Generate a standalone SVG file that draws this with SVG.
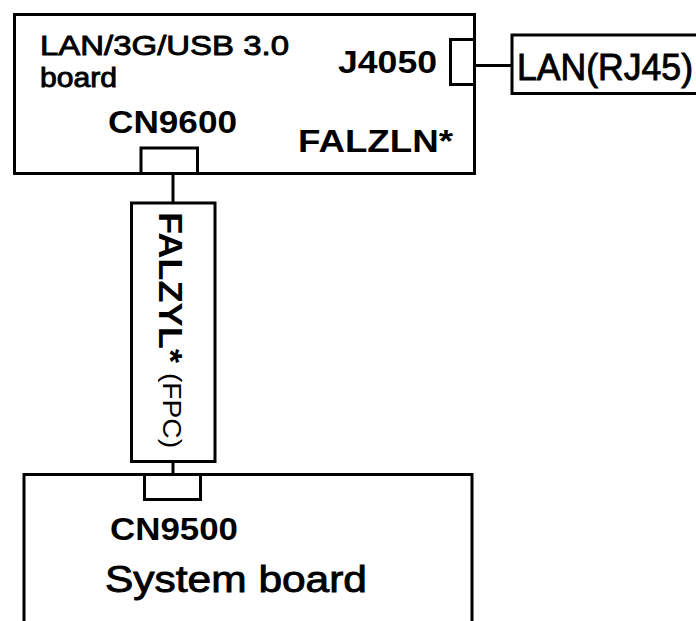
<svg xmlns="http://www.w3.org/2000/svg" width="696" height="621" viewBox="0 0 696 621">
<style>
.box{fill:#fff;stroke:#000;stroke-width:3}
.conn{fill:#fff;stroke:#000;stroke-width:3}
.wire{fill:none;stroke:#000;stroke-width:3}
.t{font-family:"Liberation Sans",Arial,sans-serif;fill:#000}
.b{font-weight:bold}
.m{stroke:#000;stroke-width:0.9}
</style>
<rect width="696" height="621" fill="#fff"/>
<g id="connectors">
<line class="wire" x1="173" y1="173" x2="173" y2="203"/>
<line class="wire" x1="173" y1="461" x2="173" y2="475"/>
<line class="wire" x1="475" y1="65.5" x2="512" y2="65.5"/>
</g>
<g id="lan-board">
<rect class="box" x="14.5" y="14.5" width="460" height="159"/>
<text class="t m" x="40" y="55" font-size="28" textLength="249" lengthAdjust="spacingAndGlyphs">LAN/3G/USB 3.0</text>
<text class="t m" x="40" y="87" font-size="27" textLength="77" lengthAdjust="spacingAndGlyphs">board</text>
<text class="t b" x="108" y="133" font-size="32" textLength="129" lengthAdjust="spacingAndGlyphs">CN9600</text>
<text class="t b" x="338" y="73" font-size="31" textLength="99" lengthAdjust="spacingAndGlyphs">J4050</text>
<text class="t b" x="298" y="152" font-size="31" textLength="155" lengthAdjust="spacingAndGlyphs">FALZLN*</text>
</g>
<g id="cn9600">
<rect class="conn" x="141" y="148" width="56.5" height="25.5"/>
</g>
<g id="j4050">
<rect class="conn" x="450.5" y="39.5" width="24" height="45"/>
</g>
<g id="lan-rj45">
<rect class="box" x="512" y="35" width="200" height="58.5"/>
<text class="t m" x="517" y="80" font-size="37" textLength="176" lengthAdjust="spacingAndGlyphs">LAN(RJ45)</text>
</g>
<g id="fpc">
<rect class="box" x="131.5" y="203" width="83.5" height="258.5"/>
<text class="t b" transform="translate(159,212) rotate(90)" font-size="33" textLength="151" lengthAdjust="spacingAndGlyphs">FALZYL*</text>
<text class="t" transform="translate(163,373) rotate(90)" font-size="25" textLength="75" lengthAdjust="spacingAndGlyphs">(FPC)</text>
</g>
<g id="system-board">
<path class="wire" d="M24,625 V474.5 H472 V625"/>
<rect class="conn" x="144.5" y="474.5" width="56" height="25"/>
<text class="t b" x="110" y="540" font-size="32" textLength="128" lengthAdjust="spacingAndGlyphs">CN9500</text>
<text class="t m" x="105" y="592" font-size="37" textLength="262" lengthAdjust="spacingAndGlyphs">System board</text>
</g>
</svg>
